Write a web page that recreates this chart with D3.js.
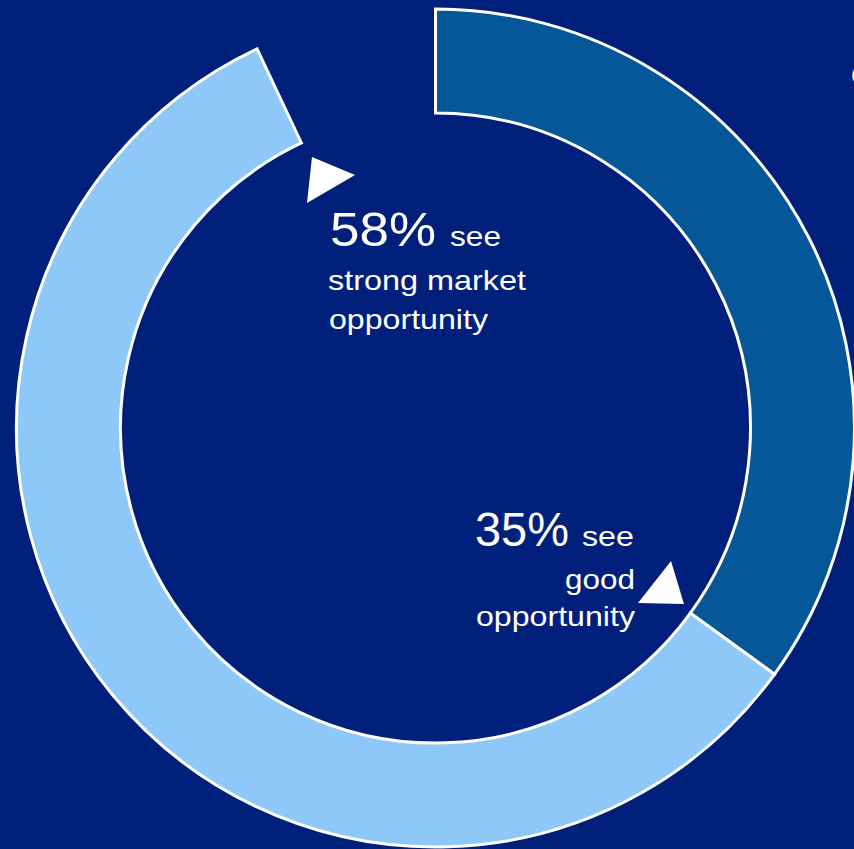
<!DOCTYPE html>
<html>
<head>
<meta charset="utf-8">
<script src="https://cdn.jsdelivr.net/npm/d3@7"></script>
<style>
  html, body { margin: 0; padding: 0; background: #00207b; overflow: hidden; }
  svg { display: block; }
</style>
</head>
<body>
<svg id="chart" width="854" height="849"></svg>
<script>
// Share of respondents by view of the market opportunity (remaining share left open)
const categories = ["good opportunity", "strong market opportunity"];
const shares = [35, 58];
const colors = ["#065797", "#8dc8f8"];

const W = 854, H = 849;
const cx = 435.5, cy = 428;
const outerR = 419, innerR = 315;

const svg = d3.select("#chart");
svg.append("rect").attr("width", W).attr("height", H).attr("fill", "#00207b");

// Angles measured clockwise from 12 o'clock over a full 100% circle
const angle = d3.scaleLinear().domain([0, 100]).range([0, 2 * Math.PI]);

let acc = 0;
const slices = shares.map((v, i) => {
  const s = { name: categories[i], value: v, start: acc, end: acc + v, color: colors[i] };
  acc += v;
  return s;
});

const arc = d3.arc().innerRadius(innerR).outerRadius(outerR);

const g = svg.append("g").attr("transform", `translate(${cx},${cy})`);
g.selectAll("path.slice")
  .data(slices)
  .join("path")
  .attr("class", "slice")
  .attr("d", d => arc({ startAngle: angle(d.start), endAngle: angle(d.end) }))
  .attr("fill", d => d.color)
  .attr("stroke", "#ffffff")
  .attr("stroke-width", 3)
  .attr("stroke-linejoin", "miter");

// Pointer triangles
const pointers = [
  [[312, 157], [355, 175], [307, 203]],
  [[671, 561], [684, 604], [638, 603]]
];
svg.selectAll("polygon.pointer")
  .data(pointers)
  .join("polygon")
  .attr("class", "pointer")
  .attr("points", d => d.map(p => p.join(",")).join(" "))
  .attr("fill", "#ffffff");

const font = "'Liberation Sans', Arial, Helvetica, sans-serif";

// Label runs: text, left x, baseline y, font size, set width
const labelRuns = [
  [`${shares[1]}%`, 330, 246, 49, 106],
  ["see", 450, 246, 27, 51],
  ["strong market", 328, 290, 28, 198],
  ["opportunity", 329, 329, 28, 159],
  [`${shares[0]}%`, 475, 546, 49, 94],
  ["see", 582, 546, 27, 52],
  ["good", 565, 589, 28, 70],
  ["opportunity", 476, 626, 28, 159]
];

svg.selectAll("text.label")
  .data(labelRuns)
  .join("text")
  .attr("class", "label")
  .attr("x", d => d[1])
  .attr("y", d => d[2])
  .attr("font-size", d => d[3])
  .attr("textLength", d => d[4])
  .attr("lengthAdjust", "spacingAndGlyphs")
  .attr("font-family", font)
  .attr("fill", "#ffffff")
  .text(d => d[0]);

// Start of a heading running off the right edge
svg.append("text")
  .attr("x", 851).attr("y", 85)
  .attr("font-family", font).attr("font-size", 28)
  .attr("fill", "#ffffff").text("O");
</script>
</body>
</html>
